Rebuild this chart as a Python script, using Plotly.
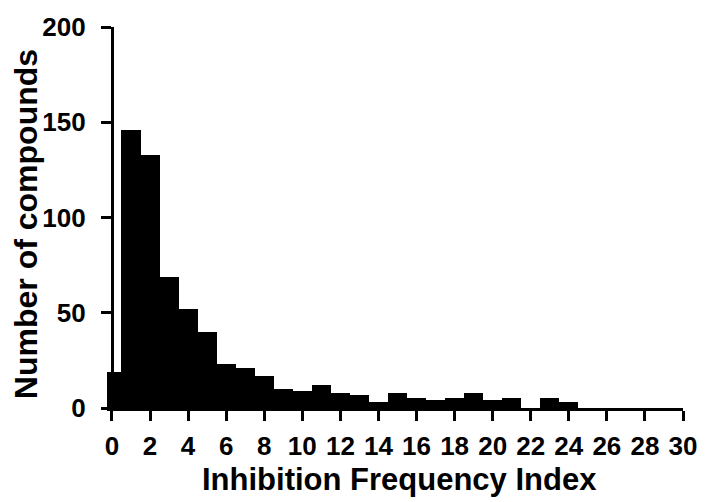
import plotly.graph_objects as go

# Data
index_values = list(range(31))
compound_counts = [19, 146, 133, 69, 52, 40, 23, 21, 17, 10, 9, 12, 8, 7, 3, 8,
                   5, 4, 5, 8, 4, 5, 0, 5, 3, 0, 0, 0, 0, 0, 0]
x_tick_vals = list(range(0, 31, 2))
y_tick_vals = [0, 50, 100, 150, 200]

FONT = "Liberation Sans, Arial, sans-serif"
X_MIN, X_MAX = -0.26, 30

fig = go.Figure()
fig.add_trace(go.Bar(
    x=index_values,
    y=compound_counts,
    width=1.0,
    marker=dict(color="black", line=dict(width=0)),
    showlegend=False,
))

fig.update_layout(
    width=709, height=502,
    margin=dict(l=107, r=20, t=23, b=94, pad=0),
    paper_bgcolor="white", plot_bgcolor="white",
    bargap=0,
    font=dict(family=FONT, color="black", size=25, weight="bold"),
    xaxis=dict(
        range=[X_MIN, X_MAX],
        tickvals=x_tick_vals,
        ticktext=[str(v) for v in x_tick_vals],
        ticks="outside", ticklen=10, tickwidth=3, tickcolor="black",
        showline=True, linewidth=3, linecolor="black",
        showgrid=False, zeroline=False,
        tickfont=dict(family=FONT, size=26, color="black", weight="bold"),
        ticklabelstandoff=3,
    ),
    yaxis=dict(
        range=[0, 200],
        tickvals=y_tick_vals,
        ticks="outside", ticklen=10, tickwidth=3, tickcolor="black",
        showline=True, linewidth=3, linecolor="black",
        showgrid=False, zeroline=False,
        anchor="free", position=(0 - X_MIN) / (X_MAX - X_MIN),
        tickfont=dict(family=FONT, size=26, color="black", weight="bold"),
        ticklabelstandoff=10,
    ),
    annotations=[
        dict(text="Inhibition Frequency Index", xref="paper", yref="paper",
             x=0.507, y=0, xanchor="center", yanchor="top", yshift=-52,
             showarrow=False,
             font=dict(family=FONT, size=31, color="black", weight="bold")),
        dict(text="Number of compounds", xref="paper", yref="paper",
             x=0, y=0.4826, xanchor="center", yanchor="middle",
             xshift=-107 + 26, textangle=-90, showarrow=False,
             font=dict(family=FONT, size=32, color="black", weight="bold")),
    ],
)

fig.write_html("out.html")
